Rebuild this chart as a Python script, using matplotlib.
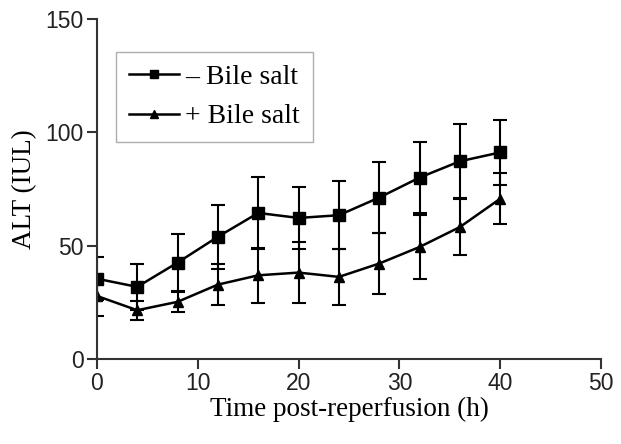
import numpy as np
import matplotlib.pyplot as plt

# ALT time course after reperfusion
hours = [0, 4, 8, 12, 16, 20, 24, 28, 32, 36, 40]
alt_no_bile = [35.5, 31.9, 42.6, 54.0, 64.5, 62.3, 63.5, 71.3, 80.1, 87.3, 91.2]
err_no_bile = [9.5, 10.0, 12.5, 14.2, 15.9, 13.7, 15.0, 15.7, 15.8, 16.4, 14.2]
alt_bile = [27.9, 21.6, 25.3, 32.9, 37.0, 38.2, 36.3, 42.2, 49.5, 58.3, 70.8]
err_bile = [8.8, 4.1, 4.4, 9.0, 12.0, 13.4, 12.5, 13.3, 14.2, 12.4, 11.3]

xticks = [0, 10, 20, 30, 40, 50]
yticks = [0, 50, 100, 150]

fig = plt.figure(figsize=(6.21, 4.44), dpi=100)
ax = fig.add_axes([0.156, 0.191, 0.812, 0.766])

c1 = ax.errorbar(hours, alt_no_bile, yerr=err_no_bile, color='black', lw=1.8,
                 marker='s', ms=8, capsize=5, elinewidth=1.5, capthick=1.5)
c2 = ax.errorbar(hours, alt_bile, yerr=err_bile, color='black', lw=1.8,
                 marker='^', ms=7, capsize=5, elinewidth=1.5, capthick=1.5)

ax.set_xlim(0, 50)
ax.set_ylim(0, 150)
ax.set_xticks(xticks)
ax.set_yticks(yticks)
for s in ['top', 'right']:
    ax.spines[s].set_visible(False)
for s in ['left', 'bottom']:
    ax.spines[s].set_linewidth(1.5)
    ax.spines[s].set_color('#333333')
ax.tick_params(direction='out', length=7, width=1.5, colors='#333333',
               labelsize=16.5, labelcolor='#222222', pad=2.5)
for lab in ax.get_xticklabels() + ax.get_yticklabels():
    lab.set_family('Liberation Sans')

ax.set_xlabel('Time post-reperfusion (h)', family='Liberation Serif', fontsize=19.5, labelpad=1)
ax.set_ylabel('ALT (IUL)', family='Liberation Serif', fontsize=19.5, labelpad=6)

# legend shows only the line + marker, no error bars
leg = ax.legend([c1[0], c2[0]], ['\u2013 Bile salt', '+ Bile salt'],
                loc='upper left', bbox_to_anchor=(0.038, 0.903), borderaxespad=0,
                frameon=True, fancybox=False,
                prop={'family': 'Liberation Serif', 'size': 20}, handlelength=1.8,
                handletextpad=0.25, borderpad=0.45, labelspacing=0.5, markerscale=0.8)
leg.get_frame().set_edgecolor('#999999')
leg.get_frame().set_linewidth(1.0)

fig.savefig('out.png', dpi=100)
